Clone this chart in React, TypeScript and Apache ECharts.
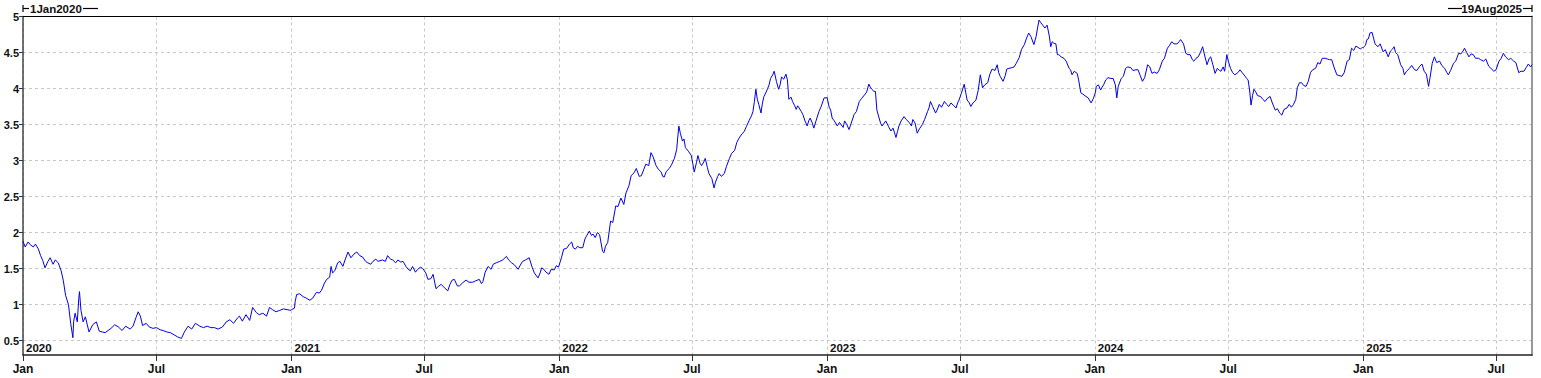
import React, { useEffect, useRef } from "react";
import * as echarts from "echarts";

// ---- data (day-of-year, value) ----
const y2020: [number, number][] = [
  [0,1.88],[3,1.80],[7,1.87],[10,1.83],[14,1.80],[17,1.84],[21,1.77],[24,1.68],[27,1.61],[30,1.51],[34,1.60],[37,1.65],[41,1.56],[44,1.62],[48,1.58],[52,1.47],[55,1.33],[58,1.13],[62,1.00],[65,0.74],[68,0.54],[69,0.76],[71,0.88],[74,0.76],[76,1.08],[77,1.18],[79,0.92],[82,0.76],[85,0.83],[90,0.62],[95,0.72],[100,0.76],[104,0.63],[108,0.62],[112,0.61],[116,0.64],[120,0.67],[125,0.72],[130,0.69],[135,0.64],[140,0.70],[146,0.66],[150,0.70],[154,0.82],[157,0.90],[160,0.84],[163,0.71],[168,0.74],[172,0.69],[177,0.67],[182,0.68],[187,0.65],[191,0.64],[196,0.62],[201,0.61],[206,0.58],[211,0.55],[216,0.53],[220,0.62],[225,0.70],[230,0.66],[235,0.74],[241,0.70],[246,0.68],[251,0.70],[256,0.68],[261,0.68],[266,0.66],[272,0.69],[277,0.76],[282,0.79],[287,0.74],[292,0.81],[295,0.84],[299,0.77],[304,0.86],[309,0.78],[313,0.96],[318,0.89],[322,0.86],[327,0.88],[332,0.84],[336,0.96],[340,0.93],[345,0.90],[350,0.92],[355,0.94],[360,0.93],[365,0.92]
];
const y2021: [number, number][] = [
  [0,0.93],[4,0.95],[5,1.04],[7,1.14],[11,1.15],[16,1.11],[20,1.09],[25,1.06],[29,1.09],[34,1.17],[38,1.16],[41,1.20],[45,1.30],[48,1.35],[52,1.38],[54,1.53],[56,1.44],[59,1.47],[63,1.58],[66,1.60],[70,1.53],[73,1.62],[77,1.73],[81,1.65],[85,1.70],[89,1.73],[93,1.68],[97,1.66],[101,1.60],[104,1.58],[108,1.56],[111,1.60],[115,1.63],[118,1.60],[124,1.62],[128,1.60],[131,1.68],[135,1.63],[138,1.62],[142,1.58],[145,1.62],[149,1.59],[152,1.60],[156,1.53],[159,1.49],[162,1.47],[165,1.53],[169,1.45],[172,1.49],[176,1.52],[179,1.50],[183,1.44],[186,1.35],[190,1.36],[193,1.42],[197,1.22],[200,1.25],[204,1.28],[208,1.24],[213,1.19],[216,1.28],[219,1.34],[222,1.35],[226,1.26],[229,1.26],[233,1.30],[238,1.34],[242,1.31],[247,1.31],[251,1.33],[256,1.35],[259,1.29],[261,1.32],[264,1.45],[268,1.53],[272,1.49],[275,1.56],[279,1.58],[284,1.60],[288,1.62],[293,1.67],[296,1.62],[300,1.58],[304,1.55],[309,1.49],[312,1.55],[315,1.60],[319,1.62],[324,1.65],[328,1.52],[331,1.44],[336,1.37],[339,1.44],[341,1.51],[344,1.49],[347,1.45],[351,1.42],[354,1.49],[358,1.48],[361,1.54],[364,1.52]
];
const y2022: [number, number][] = [
  [3,1.65],[6,1.77],[10,1.78],[14,1.84],[17,1.87],[19,1.79],[22,1.77],[25,1.81],[28,1.79],[32,1.79],[35,1.91],[37,1.95],[41,2.02],[44,1.96],[46,1.98],[49,1.93],[52,2.00],[55,1.97],[59,1.74],[61,1.72],[63,1.81],[66,1.86],[70,2.16],[73,2.14],[77,2.37],[80,2.36],[84,2.48],[88,2.39],[91,2.55],[95,2.65],[98,2.79],[102,2.83],[105,2.89],[109,2.78],[112,2.79],[115,2.87],[118,2.95],[122,2.93],[125,3.11],[128,3.05],[132,2.93],[135,2.88],[139,2.84],[141,2.78],[143,2.77],[146,2.85],[150,2.89],[153,2.94],[157,3.03],[160,3.15],[163,3.48],[165,3.38],[168,3.27],[170,3.30],[172,3.18],[176,3.13],[180,3.07],[182,2.96],[184,2.84],[187,2.97],[189,3.07],[192,2.96],[194,2.93],[197,2.98],[199,3.03],[202,2.90],[204,2.82],[208,2.75],[211,2.62],[213,2.70],[216,2.78],[218,2.82],[221,2.78],[225,2.82],[228,2.92],[232,3.03],[235,3.10],[239,3.14],[242,3.25],[245,3.31],[249,3.37],[252,3.40],[255,3.47],[259,3.56],[262,3.62],[264,3.68],[266,3.82],[268,3.99],[270,3.85],[272,3.78],[275,3.66],[277,3.80],[279,3.89],[282,3.95],[284,4.00],[286,4.05],[288,4.14],[291,4.19],[293,4.24],[296,4.10],[299,3.99],[301,4.05],[303,4.16],[306,4.13],[309,4.20],[311,4.12],[313,3.85],[316,3.88],[318,3.82],[321,3.76],[323,3.71],[325,3.76],[327,3.73],[330,3.68],[332,3.64],[335,3.55],[338,3.48],[340,3.55],[342,3.59],[345,3.52],[347,3.45],[350,3.55],[354,3.68],[357,3.75],[361,3.87],[364,3.87]
];
const y2023: [number, number][] = [
  [0,3.88],[3,3.74],[5,3.70],[7,3.59],[10,3.55],[14,3.48],[17,3.53],[19,3.50],[22,3.46],[24,3.55],[27,3.50],[30,3.43],[33,3.52],[37,3.64],[40,3.68],[44,3.82],[47,3.86],[51,3.91],[54,3.95],[57,4.06],[59,4.02],[61,3.99],[64,3.96],[66,3.96],[68,3.70],[71,3.59],[73,3.52],[75,3.48],[78,3.52],[80,3.55],[84,3.47],[87,3.41],[90,3.45],[94,3.32],[96,3.40],[98,3.48],[101,3.55],[105,3.61],[108,3.57],[112,3.53],[115,3.48],[117,3.57],[120,3.52],[123,3.38],[126,3.44],[130,3.50],[133,3.57],[137,3.68],[139,3.73],[141,3.82],[144,3.75],[148,3.66],[150,3.70],[153,3.78],[156,3.74],[160,3.82],[163,3.78],[166,3.75],[169,3.80],[172,3.77],[176,3.73],[178,3.80],[180,3.84],[183,3.93],[187,4.06],[189,3.95],[191,3.84],[194,3.80],[196,3.75],[199,3.80],[203,3.84],[206,3.97],[209,4.19],[212,4.01],[215,4.05],[219,4.08],[222,4.20],[225,4.27],[229,4.25],[232,4.33],[234,4.22],[236,4.17],[240,4.10],[243,4.18],[245,4.27],[248,4.28],[252,4.29],[255,4.30],[258,4.35],[262,4.43],[265,4.54],[269,4.61],[272,4.70],[275,4.77],[278,4.72],[282,4.61],[285,4.72],[287,4.84],[289,4.95],[291,4.92],[294,4.88],[297,4.84],[300,4.88],[303,4.73],[305,4.58],[307,4.65],[309,4.63],[312,4.62],[314,4.47],[316,4.47],[319,4.44],[323,4.42],[326,4.38],[330,4.28],[332,4.26],[334,4.19],[337,4.24],[341,4.21],[343,4.12],[346,3.94],[349,3.92],[353,3.89],[356,3.87],[360,3.80],[363,3.86]
];
const y2024: [number, number][] = [
  [1,3.95],[2,4.03],[5,4.05],[8,3.98],[10,4.02],[12,4.05],[15,4.12],[18,4.15],[22,4.14],[25,4.14],[28,4.05],[30,3.87],[32,4.03],[36,4.14],[39,4.17],[42,4.28],[45,4.30],[49,4.29],[52,4.25],[56,4.26],[59,4.26],[62,4.18],[65,4.10],[68,4.15],[72,4.33],[75,4.30],[78,4.21],[81,4.23],[85,4.21],[88,4.26],[92,4.38],[95,4.42],[99,4.56],[102,4.60],[105,4.65],[108,4.62],[112,4.62],[115,4.65],[117,4.68],[121,4.62],[124,4.49],[127,4.47],[130,4.47],[133,4.40],[135,4.38],[138,4.42],[141,4.44],[144,4.50],[147,4.58],[150,4.45],[153,4.33],[156,4.42],[158,4.44],[161,4.33],[164,4.21],[167,4.28],[170,4.25],[172,4.24],[175,4.30],[177,4.24],[180,4.47],[182,4.38],[185,4.28],[188,4.22],[191,4.19],[195,4.22],[198,4.26],[201,4.22],[205,4.17],[207,4.14],[209,4.12],[211,3.98],[213,3.77],[215,3.90],[217,3.99],[219,3.96],[222,3.90],[226,3.89],[229,3.85],[232,3.82],[235,3.86],[239,3.89],[242,3.80],[246,3.70],[249,3.72],[252,3.66],[255,3.63],[258,3.71],[262,3.73],[265,3.78],[268,3.74],[271,3.78],[274,3.85],[276,4.01],[279,4.08],[282,4.08],[285,4.04],[288,4.03],[291,4.10],[294,4.22],[297,4.26],[301,4.28],[304,4.36],[307,4.34],[310,4.42],[314,4.42],[317,4.41],[320,4.40],[323,4.40],[326,4.30],[330,4.19],[333,4.18],[337,4.17],[340,4.22],[344,4.38],[347,4.40],[350,4.56],[353,4.53],[356,4.59],[359,4.57],[362,4.55],[365,4.57]
];
const y2025: [number, number][] = [
  [0,4.57],[3,4.60],[5,4.68],[7,4.69],[9,4.77],[12,4.78],[14,4.70],[16,4.62],[20,4.58],[23,4.62],[27,4.51],[30,4.54],[34,4.44],[37,4.52],[40,4.55],[42,4.58],[44,4.50],[47,4.47],[51,4.33],[54,4.28],[56,4.19],[59,4.24],[63,4.28],[66,4.32],[70,4.26],[73,4.25],[77,4.31],[80,4.34],[83,4.24],[86,4.20],[89,4.03],[91,4.15],[94,4.35],[97,4.44],[100,4.36],[104,4.38],[107,4.32],[111,4.28],[114,4.22],[116,4.19],[119,4.25],[123,4.35],[126,4.38],[130,4.49],[133,4.48],[136,4.52],[138,4.56],[141,4.50],[144,4.44],[147,4.48],[150,4.47],[153,4.42],[157,4.42],[160,4.40],[164,4.38],[167,4.41],[171,4.31],[174,4.28],[178,4.24],[181,4.26],[185,4.38],[188,4.42],[191,4.49],[194,4.44],[198,4.40],[201,4.42],[205,4.38],[208,4.36],[212,4.22],[215,4.24],[219,4.24],[222,4.29],[225,4.34],[228,4.30],[230,4.33]
];

const yearSeries: [number, [number, number][]][] = [
  [2020, y2020], [2021, y2021], [2022, y2022], [2023, y2023], [2024, y2024], [2025, y2025],
];

const yTicks = [0.5, 1, 1.5, 2, 2.5, 3, 3.5, 4, 4.5, 5];
const xTickDates = [
  "2020-01-01", "2020-07-01", "2021-01-01", "2021-07-01", "2022-01-01", "2022-07-01",
  "2023-01-01", "2023-07-01", "2024-01-01", "2024-07-01", "2025-01-01", "2025-07-01",
];
const yearLabelDates = ["2020-01-01", "2021-01-01", "2022-01-01", "2023-01-01", "2024-01-01", "2025-01-01"];
const monthNames = ["Jan", "Feb", "Mar", "Apr", "May", "Jun", "Jul", "Aug", "Sep", "Oct", "Nov", "Dec"];
const rangeStart = "2020-01-01";
const rangeEnd = "2025-08-19";
const startLabel = "1Jan2020";
const endLabel = "19Aug2025";

const FONT = '"Liberation Sans", Arial, sans-serif';

const ts = (s: string) => {
  const [y, m, d] = s.split("-").map(Number);
  return Date.UTC(y, m - 1, d);
};

export default function App() {
  const ref = useRef<HTMLDivElement>(null);

  useEffect(() => {
    document.body.style.margin = "0";
    if (!ref.current) return;
    const chart = echarts.init(ref.current, undefined, { renderer: "svg" });

    const data: [number, number][] = [];
    yearSeries.forEach(([year, pairs]) => {
      pairs.forEach(([d, v]) => data.push([Date.UTC(year, 0, 1 + d), v]));
    });

    const xMin = ts(rangeStart);
    const xMax = ts(rangeEnd);
    const xTicks = xTickDates.map(ts);
    const yearTicks = yearLabelDates.map(ts);
    const gridColor = "#c8c8c8";
    const ink = "#111";

    const option: any = {
      animation: false,
      grid: {
        left: 23, right: 9, top: 16.5, bottom: 23,
        containLabel: false, outerBoundsMode: "none",
      },
      xAxis: [
        {
          type: "value", min: xMin, max: xMax, position: "bottom", scale: true,
          axisLine: { show: true, lineStyle: { color: "#222", width: 1.5 } },
          axisTick: { show: true, length: 6, customValues: xTicks, lineStyle: { color: "#333", width: 1 } },
          axisLabel: {
            customValues: xTicks,
            formatter: (v: number) => monthNames[new Date(v).getUTCMonth()],
            fontFamily: FONT, fontWeight: "bold", fontSize: 12, color: ink, margin: 8, hideOverlap: false,
          },
          splitLine: { show: true, lineStyle: { color: gridColor, type: [3, 3], width: 1 } },
        },
        {
          type: "value", min: xMin, max: xMax, position: "bottom", scale: true,
          axisLine: { show: false }, axisTick: { show: false }, splitLine: { show: false },
          axisLabel: {
            inside: true, customValues: yearTicks,
            formatter: (v: number) => String(new Date(v).getUTCFullYear()),
            align: "left", padding: [0, 0, 0, 3], margin: 1,
            fontFamily: FONT, fontWeight: "bold", fontSize: 11.5, color: ink, hideOverlap: false,
          },
        },
        {
          type: "value", min: xMin, max: xMax, position: "top", scale: true,
          axisLine: { show: true, lineStyle: { color: "#000", width: 1.2 } },
          axisTick: { show: false }, axisLabel: { show: false }, splitLine: { show: false },
        },
      ],
      yAxis: [
        {
          type: "value", min: 0.3, max: 5, position: "left",
          axisLine: { show: true, lineStyle: { color: "#444", width: 1.5 } },
          axisTick: { show: true, length: 4, customValues: yTicks, lineStyle: { color: "#333" } },
          axisLabel: {
            customValues: yTicks, formatter: (v: number) => String(v),
            fontFamily: FONT, fontWeight: "bold", fontSize: 11, color: ink, margin: 4,
          },
          splitLine: { show: true, lineStyle: { color: gridColor, type: [3, 3], width: 1 } },
        },
        {
          type: "value", min: 0.3, max: 5, position: "right",
          axisLine: { show: true, lineStyle: { color: "#999", width: 2 } },
          axisTick: { show: false }, axisLabel: { show: false }, splitLine: { show: false },
        },
      ],
      series: [
        {
          type: "line", xAxisIndex: 0, yAxisIndex: 0, data,
          showSymbol: false, symbol: "none",
          lineStyle: { color: "#0000e6", width: 1 },
          z: 5,
        },
      ],
      graphic: [
        { type: "line", shape: { x1: 23, y1: 5, x2: 23, y2: 12 }, style: { stroke: "#000", lineWidth: 1.2 } },
        { type: "line", shape: { x1: 23, y1: 8.5, x2: 29, y2: 8.5 }, style: { stroke: "#000", lineWidth: 1.2 } },
        { type: "text", x: 30, y: 8.5, style: { text: startLabel, font: `bold 11.5px ${FONT}`, fill: ink, verticalAlign: "middle", align: "left" } },
        { type: "line", shape: { x1: 83, y1: 8.5, x2: 98, y2: 8.5 }, style: { stroke: "#000", lineWidth: 1.2 } },
        { type: "line", shape: { x1: 1448, y1: 8.5, x2: 1462, y2: 8.5 }, style: { stroke: "#000", lineWidth: 1.2 } },
        { type: "text", x: 1522, y: 8.5, style: { text: endLabel, font: `bold 11.5px ${FONT}`, fill: ink, verticalAlign: "middle", align: "right" } },
        { type: "line", shape: { x1: 1523, y1: 8.5, x2: 1532, y2: 8.5 }, style: { stroke: "#000", lineWidth: 1.2 } },
        { type: "line", shape: { x1: 1532, y1: 5, x2: 1532, y2: 12 }, style: { stroke: "#000", lineWidth: 1.2 } },
      ],
    };

    chart.setOption(option);
    return () => chart.dispose();
  }, []);

  return <div ref={ref} style={{ width: 1541, height: 378 }} />;
}
